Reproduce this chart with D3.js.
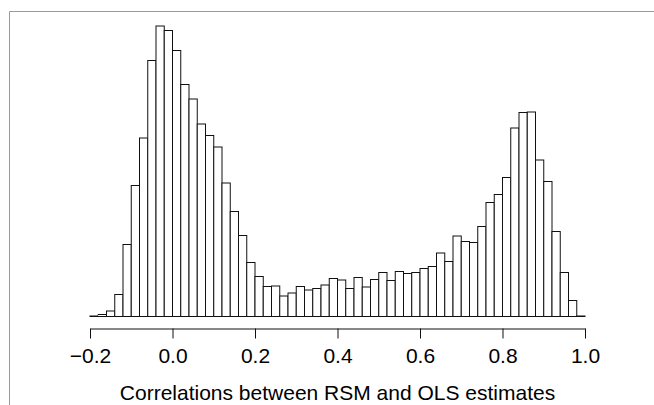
<!DOCTYPE html>
<html>
<head>
<meta charset="utf-8">
<script src="https://cdn.jsdelivr.net/npm/d3@7/dist/d3.min.js"></script>
<style>
  html, body { margin: 0; padding: 0; background: #fff; }
  svg { display: block; font-family: "Liberation Sans", Arial, sans-serif; }
</style>
</head>
<body>
<svg id="chart" width="654" height="405"></svg>
<script>
// Histogram breaks (bin edges) of the correlation values
const breaks = [
  -0.20, -0.18, -0.16, -0.14, -0.12, -0.10, -0.08, -0.06, -0.04, -0.02,
   0.00,  0.02,  0.04,  0.06,  0.08,  0.10,  0.12,  0.14,  0.16,  0.18,
   0.20,  0.22,  0.24,  0.26,  0.28,  0.30,  0.32,  0.34,  0.36,  0.38,
   0.40,  0.42,  0.44,  0.46,  0.48,  0.50,  0.52,  0.54,  0.56,  0.58,
   0.60,  0.62,  0.64,  0.66,  0.68,  0.70,  0.72,  0.74,  0.76,  0.78,
   0.80,  0.82,  0.84,  0.86,  0.88,  0.90,  0.92,  0.94,  0.96,  0.98,
   1.00
];

// Frequency of each bin
const counts = [
    1,   4,  11,  44, 144, 262, 357, 512, 581, 572,
  532, 464, 435, 385, 362, 339, 267, 210, 162, 108,
   80,  60,  61,  41,  47,  60,  53,  56,  63,  76,
   73,  56,  78,  59,  74,  88,  72,  90,  86,  88,
   96, 100, 127, 110, 161, 150, 148, 180, 228, 244,
  278, 377, 408, 409, 313, 270, 170,  88,  32,   1
];

const tickValues = [-0.2, 0.0, 0.2, 0.4, 0.6, 0.8, 1.0];
const tickLabels = ["\u22120.2", "0.0", "0.2", "0.4", "0.6", "0.8", "1.0"];
const xTitle = "Correlations between RSM and OLS estimates";

const bins = counts.map((c, i) => ({ x0: breaks[i], x1: breaks[i + 1], count: c }));

const svg = d3.select("#chart");

const x = d3.scaleLinear().domain([-0.2, 1.0]).range([90, 585]);
const y = d3.scaleLinear().domain([0, 600]).range([316.5, 16.5]);

// Outer frame (top and left edges)
svg.append("path")
  .attr("d", "M9.5,405 L9.5,11.5 L654,11.5")
  .attr("fill", "none")
  .attr("stroke", "#9a9a9a")
  .attr("stroke-width", 1);

// Histogram bars
svg.append("g")
  .selectAll("rect")
  .data(bins)
  .join("rect")
  .attr("x", d => x(d.x0))
  .attr("width", d => x(d.x1) - x(d.x0))
  .attr("y", d => y(d.count))
  .attr("height", d => y(0) - y(d.count))
  .attr("fill", "#fff")
  .attr("stroke", "#111")
  .attr("stroke-width", 1);

// Bottom axis
const xAxis = d3.axisBottom(x)
  .tickValues(tickValues)
  .tickFormat((d, i) => tickLabels[i])
  .tickSize(10)
  .tickSizeOuter(0)
  .tickPadding(10);

const gAxis = svg.append("g")
  .attr("transform", "translate(0,328.5)")
  .call(xAxis);

gAxis.select(".domain").attr("stroke", "#111").attr("stroke-width", 1);
gAxis.selectAll(".tick line").attr("stroke", "#111").attr("stroke-width", 1);
gAxis.selectAll(".tick text")
  .attr("fill", "#000")
  .style("font-family", "'Liberation Sans', Arial, sans-serif")
  .style("font-size", "21px");

// Axis title
svg.append("text")
  .attr("x", (x.range()[0] + x.range()[1]) / 2)
  .attr("y", 400)
  .attr("text-anchor", "middle")
  .style("font-size", "21px")
  .attr("fill", "#000")
  .text(xTitle);
</script>
</body>
</html>
